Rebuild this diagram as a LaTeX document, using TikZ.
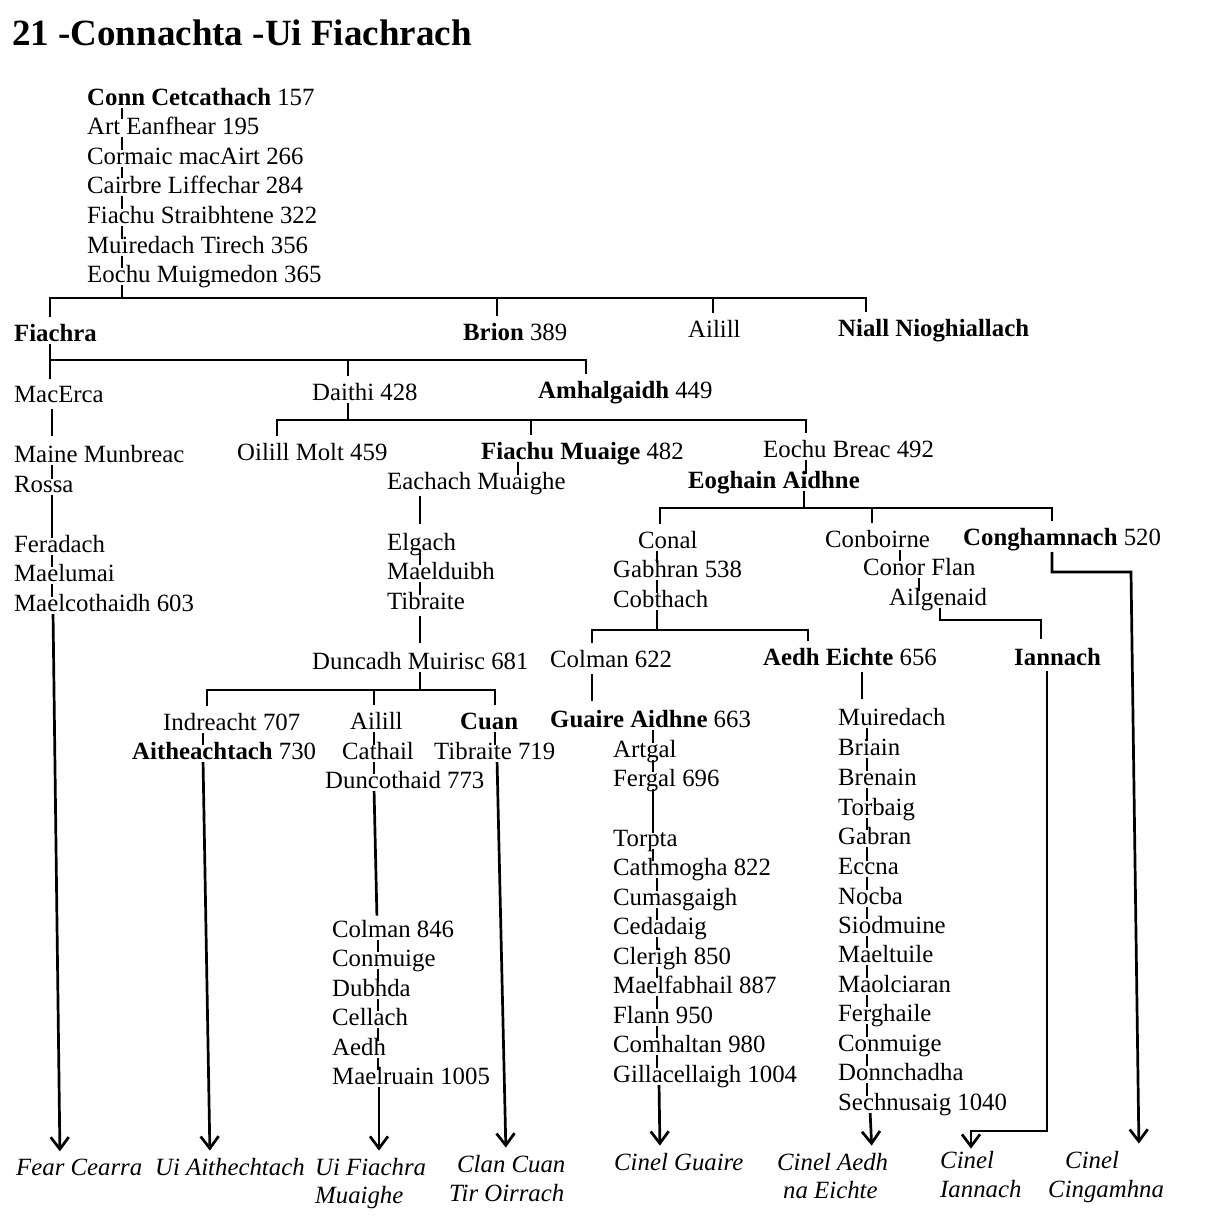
\documentclass[tikz,border=0pt]{standalone}
\usepackage{fontspec}
\setmainfont{Liberation Serif}
\usetikzlibrary{arrows.meta}
\tikzset{person/.style={anchor=base west, inner sep=0pt, font=\fontsize{24.8}{29}\selectfont},
  sept/.style={person, font=\fontsize{24.8}{29}\selectfont\itshape},
  kin/.style={draw, line width=2.7pt},
  tick/.style={kin, shorten <=3pt, shorten >=-3pt},
  link/.style={kin, shorten <=7pt, shorten >=9pt},
  stem/.style={kin, shorten <=3pt},
  drop/.style={kin, shorten >=7pt},
  fork/.style={kin, shorten <=7pt, shorten >=7pt},
  descent/.style={kin, shorten <=3pt, shorten >=7pt, -{Straight Barb[length=12pt,width=18pt]}}}

\begin{document}
\begin{tikzpicture}[x=1pt, y=-1pt]
\useasboundingbox[fill=white] (0,0) rectangle (1207,1227);
\node[anchor=base west, inner sep=0pt, font=\fontsize{37}{40}\selectfont\bfseries] (title) at (12,45) {21 -Connachta -Ui Fiachrach};

% the line of Conn
\node[person] (conn) at (87,105) {\textbf{Conn Cetcathach} 157};
\node[person] (art) at (87,134) {Art Eanfhear 195};
\node[person] (cormaic) at (87,164) {Cormaic macAirt 266};
\node[person] (cairbre) at (87,193) {Cairbre Liffechar 284};
\node[person] (fiachus) at (87,223) {Fiachu Straibhtene 322};
\node[person] (muiredacht) at (87,253) {Muiredach Tirech 356};
\node[person] (eochum) at (87,282) {Eochu Muigmedon 365};

\node[person] (fiachra) at (14,341) {\textbf{Fiachra}};
\node[person] (brion) at (463,340) {\textbf{Brion} 389};
\node[person] (ailill) at (688,337) {Ailill};
\node[person] (niall) at (838,336) {\textbf{Niall Nioghiallach}};

\node[person] (macerca) at (14,402) {MacErca};
\node[person] (daithi) at (312,400) {Daithi 428};
\node[person] (amhal) at (538,398) {\textbf{Amhalgaidh} 449};

\node[person] (maine) at (14,462) {Maine Munbreac};
\node[person] (rossa) at (14,492) {Rossa};
\node[person] (feradach) at (14,552) {Feradach};
\node[person] (maelumai) at (14,581) {Maelumai};
\node[person] (maelcoth) at (14,611) {Maelcothaidh 603};

\node[person] (oilill) at (237,460) {Oilill Molt 459};
\node[person] (fiachum) at (481,459) {\textbf{Fiachu Muaige} 482};
\node[person] (eochub) at (763,457) {Eochu Breac 492};

\node[person] (eachach) at (387,489) {Eachach Muaighe};
\node[person] (elgach) at (387,550) {Elgach};
\node[person] (maelduibh) at (387,579) {Maelduibh};
\node[person] (tibraite) at (387,609) {Tibraite};
\node[person] (duncadh) at (312,669) {Duncadh Muirisc 681};

\node[person] (indreacht) at (163,730) {Indreacht 707};
\node[person] (aithe) at (132,759) {\textbf{Aitheachtach} 730};
\node[person] (ailill2) at (350,729) {Ailill};
\node[person] (cathail) at (342,759) {Cathail};
\node[person] (duncoth) at (325,788) {Duncothaid 773};
\node[person] (cuan) at (460,729) {\textbf{Cuan}};
\node[person] (tibraite2) at (434,759) {Tibraite 719};

\node[person] (colman2) at (332,937) {Colman 846};
\node[person] (conmuige) at (332,966) {Conmuige};
\node[person] (dubhda) at (332,996) {Dubhda};
\node[person] (cellach) at (332,1025) {Cellach};
\node[person] (aedh) at (332,1055) {Aedh};
\node[person] (maelruain) at (332,1084) {Maelruain 1005};

\node[person] (eoghain) at (688,488) {\textbf{Eoghain Aidhne}};
\node[person] (conal) at (638,548) {Conal};
\node[person] (gabhran) at (613,577) {Gabhran 538};
\node[person] (cobthach) at (613,607) {Cobthach};
\node[person] (conboirne) at (825,547) {Conboirne};
\node[person] (conor) at (863,575) {Conor Flan};
\node[person] (ailgenaid) at (889,605) {Ailgenaid};
\node[person] (congh) at (963,545) {\textbf{Conghamnach} 520};

\node[person] (colman) at (550,667) {Colman 622};
\node[person] (aedheichte) at (763,665) {\textbf{Aedh Eichte} 656};
\node[person] (iannach) at (1014,665) {\textbf{Iannach}};

\node[person] (guaire) at (550,727) {\textbf{Guaire Aidhne} 663};
\node[person] (artgal) at (613,757) {Artgal};
\node[person] (fergal) at (613,786) {Fergal 696};
\node[person] (torpta) at (613,846) {Torpta};
\node[person] (cathmogha) at (613,875) {Cathmogha 822};
\node[person] (cumasg) at (613,905) {Cumasgaigh};
\node[person] (cedadaig) at (613,934) {Cedadaig};
\node[person] (clerigh) at (613,964) {Clerigh 850};
\node[person] (maelfabh) at (613,993) {Maelfabhail 887};
\node[person] (flann) at (613,1023) {Flann 950};
\node[person] (comhaltan) at (613,1052) {Comhaltan 980};
\node[person] (gillac) at (613,1082) {Gillacellaigh 1004};

\node[person] (muiredach) at (838,725) {Muiredach};
\node[person] (briain) at (838,755) {Briain};
\node[person] (brenain) at (838,785) {Brenain};
\node[person] (torbaig) at (838,815) {Torbaig};
\node[person] (gabran) at (838,844) {Gabran};
\node[person] (eccna) at (838,874) {Eccna};
\node[person] (nocba) at (838,904) {Nocba};
\node[person] (siodmuine) at (838,933) {Siodmuine};
\node[person] (maeltuile) at (838,962) {Maeltuile};
\node[person] (maolciaran) at (838,992) {Maolciaran};
\node[person] (ferghaile) at (838,1021) {Ferghaile};
\node[person] (conmuige2) at (838,1051) {Conmuige};
\node[person] (donnchadha) at (838,1080) {Donnchadha};
\node[person] (sechnusaig) at (838,1110) {Sechnusaig 1040};

% septs
\node[sept] (fear) at (16,1175) {Fear Cearra};
\node[sept] (uiaith) at (155,1175) {Ui Aithechtach};
\node[sept] (uifiach) at (315,1175) {Ui Fiachra};
\node[sept] (uifiach2) at (315,1203) {Muaighe};
\node[sept] (clancuan) at (457,1172) {Clan Cuan};
\node[sept] (clancuan2) at (449,1201) {Tir Oirrach};
\node[sept] (cguaire) at (614,1170) {Cinel Guaire};
\node[sept] (caedh) at (777,1170) {Cinel Aedh};
\node[sept] (caedh2) at (783,1198) {na Eichte};
\node[sept] (ciannach) at (940,1168) {Cinel};
\node[sept] (ciannach2) at (940,1197) {Iannach};
\node[sept] (cingam) at (1065,1168) {Cinel};
\node[sept] (cingam2) at (1048,1197) {Cingamhna};

% junctions
\coordinate (j1) at (0,298);
\coordinate (j2) at (0,360);
\coordinate (j3) at (0,420);
\coordinate (j4) at (0,690);
\coordinate (j5) at (0,508);
\coordinate (j6) at (0,630);
\coordinate (j7) at (0,620);
\coordinate (j8) at (0,1131);
\coordinate (j9) at (0,572);

\foreach \a/\b in {conn/art, art/cormaic, cormaic/cairbre, cairbre/fiachus, fiachus/muiredacht, muiredacht/eochum}
  \draw[tick] (\a.base -| 122,0) -- (\b.north -| 122,0);
\draw[stem] (eochum.base -| 122,0) -- (j1 -| 122,0);
\draw[fork] (fiachra.north -| 50,0) |- (j1 -| 866,0) -- (niall.north -| 866,0);
\draw[drop] (j1 -| 497,0) -- (brion.north -| 497,0);
\draw[drop] (j1 -| 713,0) -- (ailill.north -| 713,0);

% Fiachra
\draw[stem] (fiachra.base -| 50,0) -- (j2 -| 50,0);
\draw[fork] (macerca.north -| 50,0) |- (j2 -| 586,0) -- (amhal.north -| 586,0);
\draw[drop] (j2 -| 348,0) -- (daithi.north -| 348,0);
\draw[link] (macerca.base -| 52,0) -- (maine.north -| 52,0);
\foreach \a/\b in {maine/rossa, rossa/feradach, feradach/maelumai, maelumai/maelcoth}
  \draw[tick] (\a.base -| 52,0) -- (\b.north -| 52,0);
\draw[descent] (maelcoth.base -| 53,0) -- (fear.north -| 60,0);

% Daithi
\draw[stem] (daithi.base -| 348,0) -- (j3 -| 348,0);
\draw[fork] (oilill.north -| 277,0) |- (j3 -| 806,0) -- (eochub.north -| 806,0);
\draw[drop] (j3 -| 531,0) -- (fiachum.north -| 531,0);
\draw[tick] (fiachum.base -| 518,0) -- (eachach.north -| 518,0);
\draw[link] (eachach.base -| 420,0) -- (elgach.north -| 420,0);
\foreach \a/\b in {elgach/maelduibh, maelduibh/tibraite}
  \draw[tick] (\a.base -| 420,0) -- (\b.north -| 420,0);
\draw[link] (tibraite.base -| 420,0) -- (duncadh.north -| 420,0);

% Duncadh Muirisc
\draw[stem] (duncadh.base -| 420,0) -- (j4 -| 420,0);
\draw[fork] (indreacht.north -| 207,0) |- (j4 -| 495,0) -- (cuan.north -| 495,0);
\draw[drop] (j4 -| 374,0) -- (ailill2.north -| 374,0);
\draw[tick] (indreacht.base -| 203,0) -- (aithe.north -| 203,0);
\draw[descent] (aithe.base -| 203,0) -- (uiaith.north -| 210,0);
\foreach \a/\b in {ailill2/cathail, cathail/duncoth}
  \draw[tick] (\a.base -| 374,0) -- (\b.north -| 374,0);
\draw[kin, shorten <=3pt, shorten >=4pt] (duncoth.base -| 374,0) -- (colman2.north -| 377,0);
\foreach \a/\b in {colman2/conmuige, conmuige/dubhda, dubhda/cellach, cellach/aedh, aedh/maelruain}
  \draw[tick] (\a.base -| 378,0) -- (\b.north -| 378,0);
\draw[descent] (maelruain.base -| 379,0) -- (uifiach.north -| 379,0);
\draw[tick] (cuan.base -| 495,0) -- (tibraite2.north -| 495,0);
\draw[descent] (tibraite2.base -| 497,0) -- (clancuan.north -| 506,0);

% Eochu Breac
\draw[tick] (eochub.base -| 806,0) -- (eoghain.north -| 806,0);
\draw[stem] (eoghain.base -| 804,0) -- (j5 -| 804,0);
\draw[fork] (conal.north -| 660,0) |- (j5 -| 1052,0) -- (congh.north -| 1052,0);
\draw[drop] (j5 -| 872,0) -- (conboirne.north -| 872,0);
\foreach \a/\b in {conal/gabhran, gabhran/cobthach}
  \draw[tick] (\a.base -| 657,0) -- (\b.north -| 657,0);
\draw[stem] (cobthach.base -| 657,0) -- (j6 -| 657,0);
\draw[fork] (colman.north -| 592,0) |- (j6 -| 808,0) -- (aedheichte.north -| 808,0);

% Guaire Aidhne
\draw[link] (colman.base -| 592,0) -- (guaire.north -| 592,0);
\foreach \a/\b in {guaire/artgal, artgal/fergal, fergal/torpta, torpta/cathmogha}
  \draw[tick] (\a.base -| 653,0) -- (\b.north -| 653,0);
\foreach \a/\b in {cathmogha/cumasg, cumasg/cedadaig, cedadaig/clerigh, clerigh/maelfabh, maelfabh/flann, flann/comhaltan, comhaltan/gillac}
  \draw[tick] (\a.base -| 657,0) -- (\b.north -| 657,0);
\draw[descent] (gillac.base -| 659,0) -- (cguaire.north -| 660,0);

% Aedh Eichte
\draw[link] (aedheichte.base -| 862,0) -- (muiredach.north -| 862,0);
\foreach \a/\b in {muiredach/briain, briain/brenain, brenain/torbaig, torbaig/gabran, gabran/eccna, eccna/nocba, nocba/siodmuine, siodmuine/maeltuile, maeltuile/maolciaran, maolciaran/ferghaile, ferghaile/conmuige2, conmuige2/donnchadha, donnchadha/sechnusaig}
  \draw[tick] (\a.base -| 867,0) -- (\b.north -| 867,0);
\draw[descent] (sechnusaig.base -| 870,0) -- (caedh.north -| 872,0);

% Conboirne and Conghamnach
\draw[tick] (conboirne.base -| 900,0) -- (conor.north -| 900,0);
\draw[tick] (conor.base -| 919,0) -- (ailgenaid.north -| 919,0);
\draw[kin, shorten <=3pt, shorten >=9pt] (ailgenaid.base -| 940,0) |- (j7 -| 1041,0) -- (iannach.north -| 1041,0);
\draw[descent, shorten <=6pt, shorten >=2pt] (iannach.base -| 1047,0) |- (j8 -| 971,0) -- (ciannach.north -| 971,0);
\draw[descent, shorten <=7pt] (congh.base -| 1052,0) |- (j9 -| 1131,0) -- (cingam.north -| 1139,0);
\end{tikzpicture}
\end{document}
